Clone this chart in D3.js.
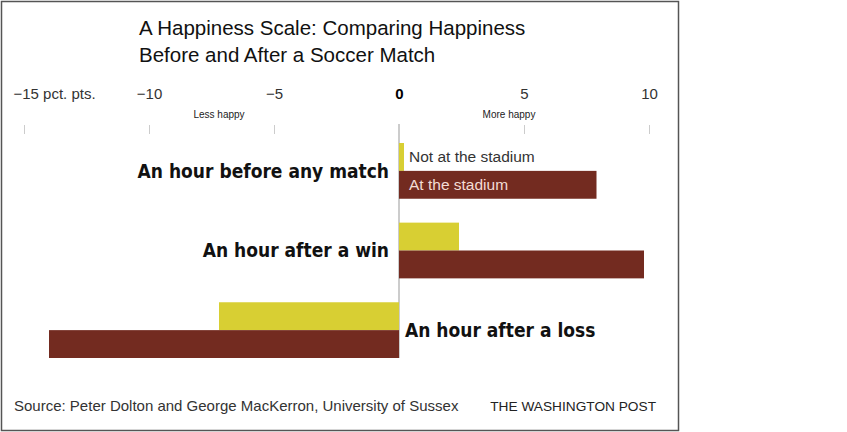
<!DOCTYPE html>
<html>
<head>
<meta charset="utf-8">
<script src="https://cdn.jsdelivr.net/npm/d3@7"></script>
<style>
  body { margin: 0; background: #fff; }
  svg { display: block; font-family: "Liberation Sans", Arial, sans-serif; }
</style>
</head>
<body>
<div id="chart"></div>
<script>
const categories = ["An hour before any match", "An hour after a win", "An hour after a loss"]
const notAtStadium = [0.2, 2.4, -7.2]
const atStadium = [7.9, 9.8, -14.0]
const seriesNames = ["Not at the stadium", "At the stadium"]
const tickValues = [-15, -10, -5, 0, 5, 10]

const width = 847, height = 432
const colors = ["#d8cf33", "#732b20"]

const svg = d3.select("#chart").append("svg")
  .attr("width", width)
  .attr("height", height)

// frame
svg.append("rect")
  .attr("x", 1.5).attr("y", 1.5)
  .attr("width", 677).attr("height", 429)
  .attr("fill", "none")
  .attr("stroke", "#555")
  .attr("stroke-width", 1.5)

// title
svg.append("text")
  .attr("x", 139).attr("y", 35)
  .attr("font-size", 20.5).attr("fill", "#111")
  .text("A Happiness Scale: Comparing Happiness")
svg.append("text")
  .attr("x", 139).attr("y", 62)
  .attr("font-size", 20.5).attr("fill", "#111")
  .text("Before and After a Soccer Match")

const x = d3.scaleLinear().domain([-15, 10]).range([24, 649])
const y = d3.scaleBand().domain(categories).range([143, 358]).paddingInner(0.3).paddingOuter(0)
const sub = d3.scaleBand().domain(seriesNames).range([0, y.bandwidth()])

// axis
const axis = svg.append("g")
  .attr("transform", "translate(0,124)")
  .call(d3.axisTop(x).tickValues(tickValues).tickSize(0).tickPadding(25)
    .tickFormat(d => d < 0 ? "\u2212" + Math.abs(d) : d))
axis.select(".domain").remove()
axis.selectAll("text")
  .attr("font-family", "\"Liberation Sans\", Arial, sans-serif")
  .attr("font-size", 15)
  .attr("font-weight", d => d === 0 ? "bold" : "normal")
  .style("fill", d => d === 0 ? "#000" : "#333")
axis.selectAll(".tick")
  .filter(d => d === -15)
  .select("text")
  .attr("text-anchor", "start")
  .attr("dx", -11)
  .text("\u221215 pct. pts.")
axis.selectAll(".tick")
  .filter(d => d !== 0)
  .append("line")
  .attr("y1", 1).attr("y2", 10)
  .attr("stroke", "#ccc")

svg.append("text")
  .attr("x", x(-7.2)).attr("y", 118)
  .attr("text-anchor", "middle").attr("font-size", 10).attr("fill", "#222")
  .text("Less happy")
svg.append("text")
  .attr("x", x(4.4)).attr("y", 118)
  .attr("text-anchor", "middle").attr("font-size", 10).attr("fill", "#222")
  .text("More happy")

// zero line
svg.append("line")
  .attr("x1", x(0)).attr("x2", x(0))
  .attr("y1", 124).attr("y2", y(categories[2]) + y.bandwidth())
  .attr("stroke", "#999")
  .attr("stroke-width", 1)

const rows = categories.map((c, i) => ({ cat: c, values: [notAtStadium[i], atStadium[i]] }))

const groups = svg.selectAll(".group")
  .data(rows)
  .join("g")
  .attr("class", "group")
  .attr("transform", d => `translate(0,${y(d.cat)})`)

groups.selectAll("rect")
  .data(d => d.values.map((v, j) => ({ name: seriesNames[j], value: v, j })))
  .join("rect")
  .attr("x", d => x(Math.min(0, d.value)))
  .attr("width", d => Math.abs(x(d.value) - x(0)))
  .attr("y", d => sub(d.name))
  .attr("height", sub.bandwidth())
  .attr("fill", d => colors[d.j])

// category labels
groups.append("text")
  .attr("x", d => d.values[1] >= 0 ? x(0) - 10 : x(0) + 6)
  .attr("y", sub.bandwidth())
  .attr("dy", "0.35em")
  .attr("text-anchor", d => d.values[1] >= 0 ? "end" : "start")
  .attr("font-family", "\"Liberation Sans Narrow\", \"DejaVu Sans Condensed\", Arial, sans-serif")
  .attr("font-weight", "bold")
  .attr("font-size", 19)
  .attr("fill", "#111")
  .text(d => d.cat)

// series labels inside first group
const first = groups.filter((d, i) => i === 0)
first.append("text")
  .attr("x", x(0) + 10)
  .attr("y", sub(seriesNames[0]) + sub.bandwidth() / 2)
  .attr("dy", "0.35em")
  .attr("font-size", 15.5).attr("fill", "#333")
  .text(seriesNames[0])
first.append("text")
  .attr("x", x(0) + 10)
  .attr("y", sub(seriesNames[1]) + sub.bandwidth() / 2)
  .attr("dy", "0.35em")
  .attr("font-size", 15.5).attr("fill", "#f3ddd5")
  .text(seriesNames[1])

// footer
svg.append("text")
  .attr("x", 14).attr("y", 411)
  .attr("font-size", 15).attr("fill", "#333")
  .text("Source: Peter Dolton and George MacKerron, University of Sussex")
svg.append("text")
  .attr("x", 656).attr("y", 411)
  .attr("text-anchor", "end")
  .attr("font-size", 13.7).attr("fill", "#222")
  .text("THE WASHINGTON POST")
</script>
</body>
</html>
